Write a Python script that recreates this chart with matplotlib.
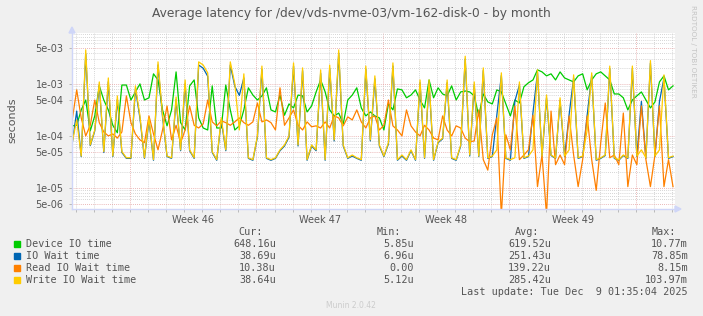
import numpy as np
import matplotlib
matplotlib.use('Agg')
import matplotlib.pyplot as plt
from matplotlib.patches import Rectangle, Polygon

# values in microseconds, one sample every 6 hours, starting 3.2 days before week 46
green_us = [156, 160, 316, 490, 125, 242, 915, 490, 316, 160,
            115, 950, 950, 490, 700, 1000, 490, 540, 1560, 1190,
            316, 156, 316, 1700, 180, 130, 915, 1190, 222, 142,
            130, 915, 142, 142, 950, 316, 130, 156, 316, 840,
            610, 490, 588, 840, 316, 289, 610, 250, 412, 345,
            610, 588, 289, 377, 700, 1190, 700, 316, 242, 275,
            170, 490, 610, 840, 345, 242, 289, 242, 222, 130,
            412, 316, 800, 767, 540, 610, 767, 490, 345, 1190,
            540, 840, 640, 588, 915, 490, 700, 730, 700, 588,
            242, 640, 450, 412, 767, 700, 412, 242, 490, 430,
            880, 1050, 1190, 1860, 1700, 1425, 1560, 1190, 1700, 1300,
            1190, 1090, 1425, 1560, 767, 1190, 1560, 1700, 1425, 1190,
            640, 640, 540, 316, 490, 588, 700, 490, 345, 450,
            1090, 1425, 767, 915]

blue_us = [70, 300, 40, 3800, 65, 125, 950, 48, 1100, 40,
           500, 48, 37, 37, 800, 220, 37, 200, 34, 2300,
           230, 40, 37, 500, 52, 1000, 52, 37, 2300, 2000,
           1400, 48, 34, 200, 52, 2300, 900, 600, 1300, 37,
           34, 95, 1900, 37, 34, 37, 52, 64, 95, 2200,
           64, 1800, 34, 64, 52, 1600, 34, 2000, 80, 3900,
           64, 37, 41, 37, 34, 1900, 80, 1250, 64, 40,
           70, 2200, 34, 41, 34, 52, 34, 1050, 37, 1050,
           34, 74, 88, 1050, 37, 34, 64, 3000, 41, 950,
           40, 1800, 37, 40, 250, 1450, 37, 34, 470, 950,
           37, 40, 280, 1650, 40, 540, 42, 37, 480, 40,
           255, 1300, 37, 40, 250, 1450, 34, 37, 42, 1950,
           37, 34, 42, 37, 1950, 40, 460, 37, 2500, 40,
           460, 1300, 37, 40]

orange_us = [203, 767, 222, 100, 160, 490, 180, 119, 100, 109,
             91, 119, 588, 180, 109, 84, 74, 242, 109, 54,
             130, 377, 84, 160, 74, 130, 377, 160, 142, 170,
             490, 186, 156, 195, 180, 160, 186, 222, 180, 160,
             186, 430, 186, 203, 180, 130, 840, 160, 222, 316,
             160, 130, 186, 150, 156, 142, 186, 142, 242, 222,
             156, 232, 203, 316, 186, 142, 222, 242, 130, 160,
             490, 156, 130, 100, 316, 156, 119, 100, 160, 130,
             91, 84, 242, 130, 100, 156, 142, 91, 77, 80,
             316, 35, 22, 105, 222, 3.0, 105, 54, 377, 35,
             43, 54, 250, 10.6, 43, 3.0, 300, 28, 43, 28,
             242, 43, 10.6, 35, 242, 35, 9, 74, 430, 38,
             43, 28, 275, 10.6, 43, 28, 377, 35, 10.6, 43,
             377, 10.6, 35, 10.6]

yellow_us = [74, 203, 41, 4500, 67, 130, 1090, 50, 1300, 41,
             588, 50, 38, 38, 915, 242, 38, 222, 35, 2650,
             250, 41, 38, 560, 54, 1190, 54, 38, 2650, 2300,
             1630, 50, 35, 222, 54, 2650, 1000, 130, 1560, 38,
             35, 100, 2200, 38, 35, 38, 54, 67, 100, 2530,
             67, 2030, 35, 67, 54, 1860, 35, 2300, 84, 4500,
             67, 38, 43, 38, 35, 2200, 84, 1425, 67, 41,
             74, 2530, 35, 43, 35, 54, 35, 1190, 38, 1190,
             35, 77, 91, 1190, 38, 35, 67, 3400, 43, 1090,
             41, 2030, 38, 41, 54, 1630, 38, 35, 38, 1090,
             38, 41, 54, 1860, 41, 610, 43, 38, 540, 41,
             54, 1490, 38, 41, 130, 1630, 35, 38, 43, 2200,
             38, 35, 43, 38, 2200, 41, 54, 38, 2800, 41,
             54, 1490, 38, 41]

labels = ['Device IO time', 'IO Wait time', 'Read IO Wait time', 'Write IO Wait time']
colors = ['#00CC00', '#0066B3', '#FF8000', '#FFCC00']
cur = ['648.16u', '38.69u', '10.38u', '38.64u']
mins = ['5.85u', '6.96u', '0.00', '5.12u']
avgs = ['619.52u', '251.43u', '139.22u', '285.42u']
maxs = ['10.77m', '78.85m', '8.15m', '103.97m']
week_labels = ['Week 46', 'Week 47', 'Week 48', 'Week 49']
ytick_vals = [5e-3, 1e-3, 5e-4, 1e-4, 5e-5, 1e-5, 5e-6]
ytick_labels = ['5e-03', '1e-03', '5e-04', '1e-04', '5e-05', '1e-05', '5e-06']

W, H = 703, 316
TXT = '#555555'

def fx(px):
    return px / W

def fy(py):
    return 1 - py / H

fig = plt.figure(figsize=(W / 100, H / 100), dpi=100, facecolor='#F0F0F0')
ax = fig.add_axes([fx(72), fy(209), fx(675) - fx(72), fy(33) - fy(209)])
ax.set_facecolor('white')
ax.set_yscale('log')
ax.set_xlim(-3.21, 30.16)
ax.set_ylim(3.94e-6, 9.5e-3)

# grid like rrdtool: gray dotted minor, red dotted major
dot = (0, (1, 1.5))
for d in range(-3, 31):
    c = '#E4A0A0' if d % 7 == 0 else '#C8C8C8'
    ax.axvline(d, color=c, lw=0.6, ls=dot, zorder=0)
for k in range(-6, -1):
    for m in range(1, 10):
        v = m * 10.0 ** k
        if 3.94e-6 < v < 9.5e-3:
            c = '#E4A0A0' if m in (1, 5) else '#C8C8C8'
            ax.axhline(v, color=c, lw=0.6, ls=dot, zorder=0)

days = np.arange(len(green_us)) * 0.25 - 3.2
for vals, c in zip([green_us, blue_us, orange_us, yellow_us], colors):
    ax.plot(days, np.array(vals) * 1e-6, color=c, lw=0.9, zorder=2)

for s in ['top', 'right']:
    ax.spines[s].set_visible(False)
for s in ['left', 'bottom']:
    ax.spines[s].set_color('#CFD6F8')
    ax.spines[s].set_linewidth(1)

ax.set_yticks(ytick_vals)
ax.set_yticklabels(ytick_labels)
ax.yaxis.set_minor_locator(matplotlib.ticker.NullLocator())
ax.set_xticks([3.5, 10.5, 17.5, 24.5])
ax.set_xticklabels(week_labels)
ax.set_xticks(range(-3, 31), minor=True)
ax.tick_params(axis='x', which='major', length=0, pad=4, labelsize=7, labelcolor=TXT)
ax.tick_params(axis='x', which='minor', length=2, color='#B0B0B0', width=0.6)
ax.tick_params(axis='y', which='major', length=2, color='#B0B0B0', width=0.6,
               pad=4, labelsize=7, labelcolor=TXT)

# axis arrows
fig.patches.append(Polygon([[fx(69), fy(33)], [fx(75), fy(33)], [fx(72), fy(27)]],
                           closed=True, color='#CFD6F8', transform=fig.transFigure))
fig.patches.append(Polygon([[fx(675), fy(206)], [fx(675), fy(212)], [fx(681), fy(209)]],
                           closed=True, color='#CFD6F8', transform=fig.transFigure))

fig.text(fx(351), fy(13), 'Average latency for /dev/vds-nvme-03/vm-162-disk-0 - by month',
         ha='center', va='center', fontsize=8.8, color=TXT)
fig.text(fx(12), fy(120), 'seconds', rotation=90, ha='center', va='center',
         fontsize=8, color=TXT)
fig.text(fx(693), fy(5), 'RRDTOOL / TOBI OETIKER', rotation=270, ha='center', va='top',
         fontsize=5.2, color='#C4C4C4')
fig.text(fx(351), fy(305), 'Munin 2.0.42', ha='center', va='center',
         fontsize=5.5, color='#CCCCCC')

# legend table
mono = dict(family='DejaVu Sans Mono', fontsize=7.3, color=TXT, va='center')
for hx, h in zip([263, 401, 539, 676], ['Cur:', 'Min:', 'Avg:', 'Max:']):
    fig.text(fx(hx), fy(232), h, ha='right', **mono)
for r in range(4):
    yy = 244 + 12 * r
    fig.patches.append(Rectangle((fx(14), fy(yy + 3)), fx(20) - fx(14), fy(yy - 3) - fy(yy + 3),
                                 color=colors[r], transform=fig.transFigure))
    fig.text(fx(26), fy(yy), labels[r], ha='left', **mono)
    for vx, col in zip([276, 414, 551, 688], [cur, mins, avgs, maxs]):
        fig.text(fx(vx), fy(yy), col[r], ha='right', **mono)
fig.text(fx(688), fy(292), 'Last update: Tue Dec  9 01:35:04 2025', ha='right', **mono)

fig.savefig('out.png', dpi=100, facecolor=fig.get_facecolor())
